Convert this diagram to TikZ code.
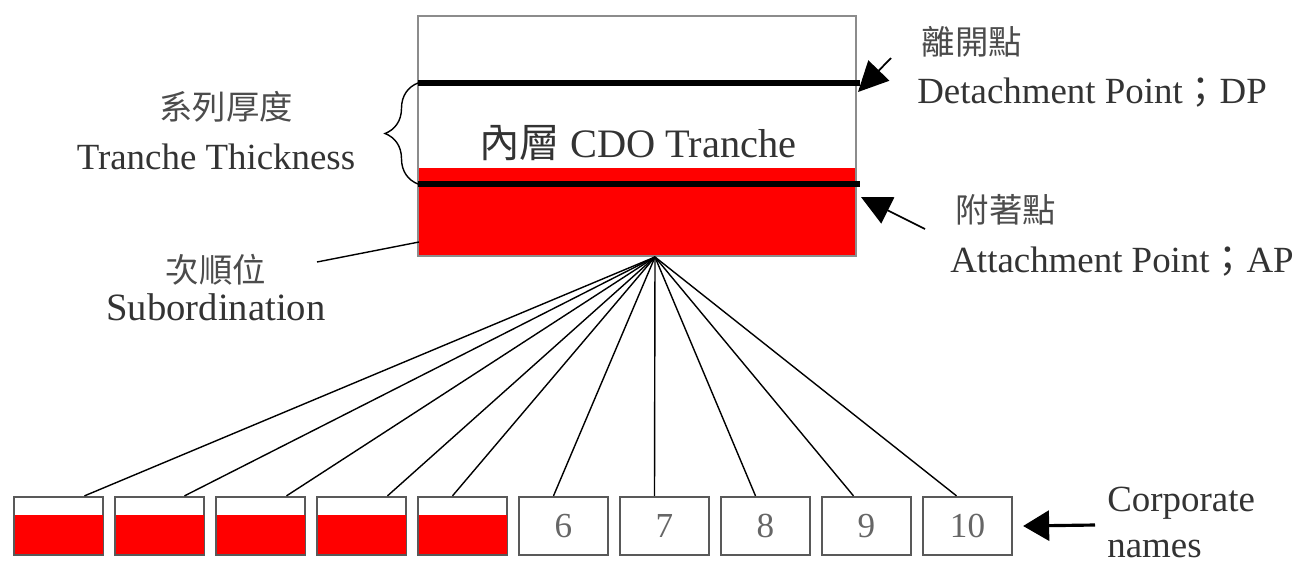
\documentclass[tikz,border=0pt]{standalone}
\usepackage{fontspec}
\setmainfont{Liberation Serif}
\newfontfamily\cjk{Noto Sans CJK TC}
\usetikzlibrary{arrows.meta,decorations.pathreplacing}
\begin{document}
\begin{tikzpicture}[x=0.02cm, y=-0.02cm,
    txt/.style={text=black!80, font=\fontsize{21}{25}\selectfont, inner sep=0pt},
    zh/.style={text=black!70, font=\cjk\fontsize{19}{23}\selectfont, inner sep=0pt},
    corp/.style={draw=black!65, line width=1.3pt, minimum width=1.78cm, minimum height=1.16cm, inner sep=0pt, text=black!60, font=\fontsize{20}{24}\selectfont},
    level/.style={line width=3.2pt, black},
    fan/.style={line width=0.8pt, black},
    ptr/.style={line width=1pt, -{Triangle[length=0.6cm, width=0.58cm]}}]
    \useasboundingbox (0,0) rectangle (1303,566);

    % Tranche box
    \fill[red] (418,168) rectangle (856,256);
    \node[draw=black!45, line width=1.3pt, minimum width=8.76cm, minimum height=4.8cm, inner sep=0pt] (tranche) at (637,136) {};
    \draw[level] (418,83) -- (860,83);
    \draw[level] (418,184) -- (860,184);
    \node[txt, font=\fontsize{23}{27}\selectfont] (inner) at (638,143) {{\cjk 內層} CDO Tranche};

    % Tranche thickness
    \node[zh] (thickzh) at (226,107) {系列厚度};
    \node[txt] (thick) at (216,157) {Tranche Thickness};
    \draw[decorate, decoration={brace, amplitude=0.66cm}, line width=0.8pt] (418,184) -- (418,83);

    % Subordination
    \node[zh] (subzh) at (216,270) {次順位};
    \node[txt, font=\fontsize{22}{26}\selectfont] (sub) at (216,307) {Subordination};
    \coordinate (subfrom) at (317,262);
    \draw[line width=0.8pt] (subfrom) -- (419,242);

    % Detachment and attachment points
    \node[zh] (dpzh) at (972,42) {離開點};
    \node[txt, anchor=west] (dp) at (917,93) {Detachment Point{\cjk ；}DP};
    \coordinate (dpfrom) at (891,58);
    \draw[ptr] (dpfrom) -- (858,92);
    \node[zh] (apzh) at (1006,210) {附著點};
    \node[txt, anchor=west] (ap) at (950,262) {Attachment Point{\cjk ；}AP};
    \coordinate (apfrom) at (925,229);
    \draw[ptr] (apfrom) -- (861,197);

    % Corporate names
    \foreach \i in {1,...,5} {
        \node[corp] (c\i) at ({58.5+101*(\i-1)},526) {};
        \fill[red] ([shift={(1pt,1.5pt)}]c\i.south west) rectangle ([shift={(-0.5pt,0.22cm)}]c\i.east);
    }
    \foreach \i in {6,...,10} {
        \node[corp] (c\i) at ({58.5+101*(\i-1)},526) {\i};
    }
    \node[txt, anchor=west] (corpname) at (1107,503) {Corporate};
    \node[txt, anchor=west] (names) at (1107,549) {names};
    \coordinate (cnfrom) at (1095,525);
    \draw[line width=1.8pt, -{Triangle[length=0.52cm, width=0.6cm]}] (cnfrom) -- ([xshift=0.2cm]c10.east);

    % Fan from tranche to names
    \coordinate (apex) at (655,257);
    \foreach \i/\dx in {1/0.52, 2/0.5, 3/0.52, 4/0.52, 5/-0.2, 6/-0.2, 7/-0.2, 8/-0.2, 9/-0.26, 10/-0.22} {
        \draw[fan] (apex) -- ([xshift=\dx cm]c\i.north);
    }

\end{tikzpicture}
\end{document}
